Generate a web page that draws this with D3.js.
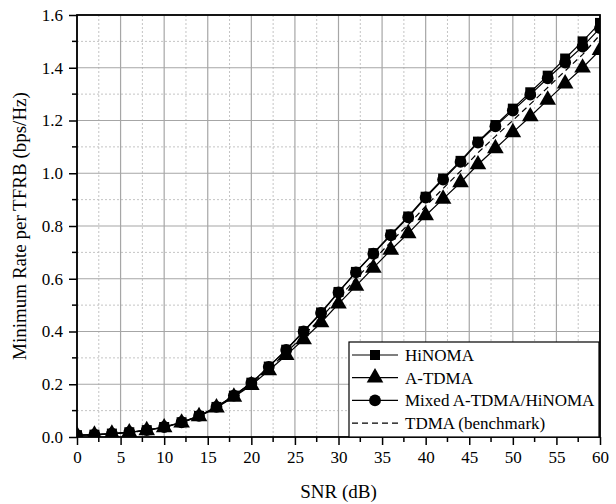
<!DOCTYPE html>
<html>
<head>
<meta charset="utf-8">
<script src="https://cdn.jsdelivr.net/npm/d3@7"></script>
<style>
  .serif { font-family: "Liberation Serif", Tinos, "Times New Roman", serif !important; }
</style>
</head>
<body style="margin:0">
<svg id="chart" width="616" height="504" font-family="Liberation Serif, serif"></svg>
<script>
// SNR points (dB)
var snr = d3.range(0, 61, 2);

// minimum rate per TFRB (bps/Hz)
var hinoma = [0.007, 0.009, 0.013, 0.018, 0.026, 0.038, 0.056, 0.080, 0.114, 0.157,
              0.206, 0.267, 0.331, 0.401, 0.472, 0.550, 0.626, 0.697, 0.768, 0.836,
              0.911, 0.980, 1.047, 1.120, 1.183, 1.245, 1.307, 1.370, 1.435, 1.500, 1.570];
var atdma  = [0.006, 0.008, 0.012, 0.017, 0.025, 0.036, 0.054, 0.078, 0.111, 0.152,
              0.196, 0.252, 0.310, 0.370, 0.434, 0.505, 0.573, 0.641, 0.709, 0.772,
              0.840, 0.903, 0.965, 1.033, 1.094, 1.155, 1.215, 1.278, 1.340, 1.400, 1.467];
var mixed  = [0.007, 0.009, 0.013, 0.018, 0.026, 0.038, 0.056, 0.080, 0.114, 0.157,
              0.205, 0.266, 0.330, 0.400, 0.470, 0.548, 0.624, 0.695, 0.765, 0.833,
              0.908, 0.976, 1.043, 1.116, 1.178, 1.238, 1.298, 1.360, 1.420, 1.480, 1.550];
var tdma   = [0.006, 0.008, 0.012, 0.017, 0.025, 0.037, 0.055, 0.079, 0.112, 0.154,
              0.200, 0.258, 0.320, 0.385, 0.452, 0.527, 0.600, 0.670, 0.740, 0.805,
              0.875, 0.942, 1.008, 1.078, 1.140, 1.200, 1.262, 1.325, 1.388, 1.450, 1.525];

var xTicks = [0, 5, 10, 15, 20, 25, 30, 35, 40, 45, 50, 55, 60];
var yTicks = [0.0, 0.2, 0.4, 0.6, 0.8, 1.0, 1.2, 1.4, 1.6];

var seriesNames = ["HiNOMA", "A-TDMA", "Mixed A-TDMA/HiNOMA", "TDMA (benchmark)"];

var dimensions = {
    width: 616,
    height: 504,
    margins: { top: 15, right: 16, bottom: 67, left: 77 }
};

var svg = d3.select("#chart");

var xScale = d3.scaleLinear()
               .domain([0, 60])
               .range([dimensions.margins.left, dimensions.width - dimensions.margins.right]);

var yScale = d3.scaleLinear()
               .domain([0, 1.6])
               .range([dimensions.height - dimensions.margins.bottom, dimensions.margins.top]);

var x0 = xScale.range()[0], x1 = xScale.range()[1];
var y0 = yScale.range()[0], y1 = yScale.range()[1];

// minor grid (dashed)
var minorX = d3.range(2.5, 60, 5);
var minorY = d3.range(0.1, 1.6, 0.2);

svg.append("g")
   .selectAll("line")
   .data(minorX)
   .enter()
   .append("line")
   .attr("x1", d => xScale(d)).attr("x2", d => xScale(d))
   .attr("y1", y0).attr("y2", y1)
   .attr("stroke", "#c4c4c4")
   .attr("stroke-dasharray", "2,2");

svg.append("g")
   .selectAll("line")
   .data(minorY)
   .enter()
   .append("line")
   .attr("x1", x0).attr("x2", x1)
   .attr("y1", d => yScale(d)).attr("y2", d => yScale(d))
   .attr("stroke", "#c4c4c4")
   .attr("stroke-dasharray", "2,2");

// major grid
svg.append("g")
   .selectAll("line")
   .data(xTicks)
   .enter()
   .append("line")
   .attr("x1", d => xScale(d)).attr("x2", d => xScale(d))
   .attr("y1", y0).attr("y2", y1)
   .attr("stroke", "#a6a6a6")
   .attr("stroke-width", 1.2);

svg.append("g")
   .selectAll("line")
   .data(yTicks)
   .enter()
   .append("line")
   .attr("x1", x0).attr("x2", x1)
   .attr("y1", d => yScale(d)).attr("y2", d => yScale(d))
   .attr("stroke", "#a6a6a6")
   .attr("stroke-width", 1.2);

// clip for data
svg.append("clipPath")
   .attr("id", "plotclip")
   .append("rect")
   .attr("x", x0).attr("y", y1)
   .attr("width", x1 - x0).attr("height", y0 - y1);

var plot = svg.append("g").attr("clip-path", "url(#plotclip)");

function lineOf(vals) {
    return d3.line()
             .x((d, i) => xScale(snr[i]))
             .y(d => yScale(d))(vals);
}

// TDMA benchmark dashed
plot.append("path")
    .attr("d", lineOf(tdma))
    .attr("fill", "none")
    .attr("stroke", "#000")
    .attr("stroke-width", 1.2)
    .attr("stroke-dasharray", "6,4");

var marked = [
    { vals: atdma,  sym: d3.symbolTriangle, size: 120 },
    { vals: mixed,  sym: d3.symbolCircle,   size: 110 },
    { vals: hinoma, sym: d3.symbolSquare,   size: 100 }
];

marked.forEach(function(s) {
    plot.append("path")
        .attr("d", lineOf(s.vals))
        .attr("fill", "none")
        .attr("stroke", "#000")
        .attr("stroke-width", 1.2);

    plot.append("g")
        .selectAll("path")
        .data(s.vals)
        .enter()
        .append("path")
        .attr("transform", (d, i) => "translate(" + xScale(snr[i]) + "," + yScale(d) + ")")
        .attr("d", d3.symbol().type(s.sym).size(s.size))
        .attr("fill", "#000");
});

// axes
var xAxis = svg.append("g")
   .attr("transform", "translate(0," + y0 + ")")
   .call(d3.axisBottom(xScale).tickValues(xTicks).tickSize(8).tickPadding(6).tickFormat(d3.format("d")));

var yAxis = svg.append("g")
   .attr("transform", "translate(" + x0 + ",0)")
   .call(d3.axisLeft(yScale).tickValues(yTicks).tickSize(8).tickPadding(6).tickFormat(d3.format(".1f")));

[xAxis, yAxis].forEach(function(a) {
    a.attr("font-family", "Liberation Serif, serif").attr("font-size", 17);
    a.select(".domain").remove();
    a.selectAll(".tick line").attr("stroke", "#000").attr("stroke-width", 1.5);
    a.selectAll("text")
     .attr("class", "serif")
     .attr("fill", "#000");
});

// minor ticks
svg.append("g")
   .selectAll("line")
   .data(minorX)
   .enter()
   .append("line")
   .attr("x1", d => xScale(d)).attr("x2", d => xScale(d))
   .attr("y1", y0).attr("y2", y0 + 5)
   .attr("stroke", "#000").attr("stroke-width", 1.5);

svg.append("g")
   .selectAll("line")
   .data(minorY)
   .enter()
   .append("line")
   .attr("x1", x0 - 5).attr("x2", x0)
   .attr("y1", d => yScale(d)).attr("y2", d => yScale(d))
   .attr("stroke", "#000").attr("stroke-width", 1.5);

// frame
svg.append("rect")
   .attr("x", x0).attr("y", y1)
   .attr("width", x1 - x0).attr("height", y0 - y1)
   .attr("fill", "none")
   .attr("stroke", "#000")
   .attr("stroke-width", 1.8);

// axis titles
svg.append("text")
   .attr("class", "serif")
   .attr("x", (x0 + x1) / 2)
   .attr("y", 498)
   .attr("text-anchor", "middle")
   .attr("font-size", 19)
   .text("SNR (dB)");

svg.append("text")
   .attr("class", "serif")
   .attr("transform", "translate(26," + ((y0 + y1) / 2) + ") rotate(-90)")
   .attr("text-anchor", "middle")
   .attr("font-size", 19)
   .text("Minimum Rate per TFRB (bps/Hz)");

// legend
var legend = svg.append("g");
var lx = 349, ly = 342, lw = 250, lh = 95;

legend.append("rect")
      .attr("x", lx).attr("y", ly)
      .attr("width", lw).attr("height", lh)
      .attr("fill", "#fff")
      .attr("stroke", "#000")
      .attr("stroke-width", 1.2);

var legendSyms = [d3.symbolSquare, d3.symbolTriangle, d3.symbolCircle, null];
var legendSizes = [100, 120, 110, 0];

legend.selectAll("g.item")
      .data(seriesNames)
      .enter()
      .append("g")
      .attr("class", "item")
      .attr("transform", (d, i) => "translate(" + lx + "," + (ly + 13 + i * 22.7) + ")")
      .each(function(d, i) {
          var g = d3.select(this);
          g.append("line")
           .attr("x1", 3).attr("x2", 49)
           .attr("y1", 0).attr("y2", 0)
           .attr("stroke", "#000")
           .attr("stroke-width", 1.2)
           .attr("stroke-dasharray", legendSyms[i] ? null : "6,4");
          if (legendSyms[i]) {
              g.append("path")
               .attr("transform", "translate(26,0)")
               .attr("d", d3.symbol().type(legendSyms[i]).size(legendSizes[i]))
               .attr("fill", "#000");
          }
          g.append("text")
           .attr("class", "serif")
           .attr("x", 56)
           .attr("y", 0)
           .attr("dy", "0.35em")
           .attr("font-size", 17)
           .text(d);
      });
</script>
</body>
</html>
